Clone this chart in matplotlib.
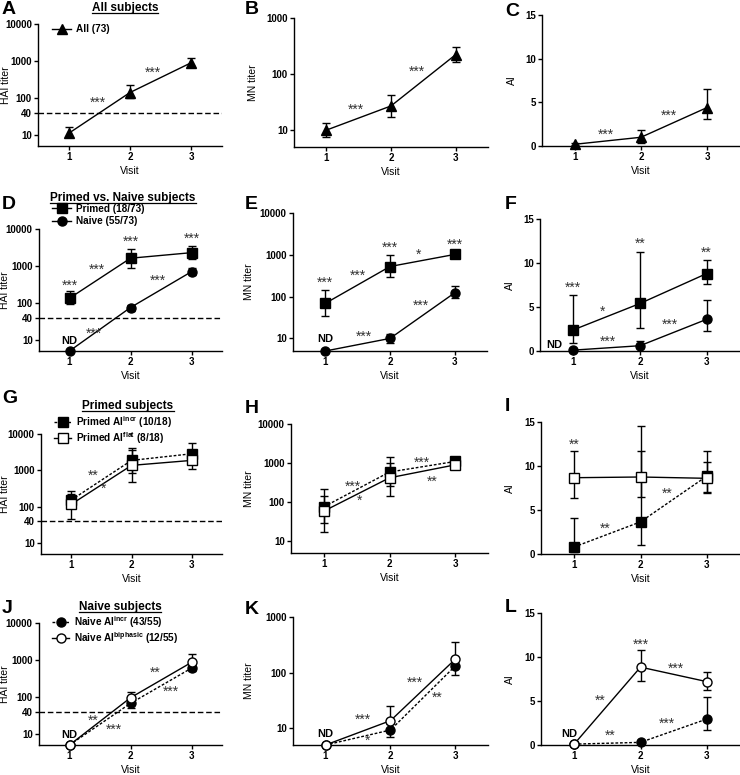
import matplotlib
matplotlib.use("Agg")
import matplotlib.pyplot as plt
from matplotlib.lines import Line2D
from matplotlib.ticker import NullLocator

plt.rcParams['font.family'] = ['Liberation Sans', 'DejaVu Sans']
plt.rcParams['font.weight'] = 'bold'
plt.rcParams['mathtext.fontset'] = 'custom'
plt.rcParams['mathtext.bf'] = 'Liberation Sans:bold'
plt.rcParams['mathtext.rm'] = 'Liberation Sans:bold'
plt.rcParams['mathtext.default'] = 'bf'

visits = [1, 2, 3]

# ---- data: value, error low, error high ----
# A - all subjects, HAI
hai_all = [11, 140, 900]
hai_all_lo = [9, 100, 730]
hai_all_hi = [16, 225, 1180]
# B - all subjects, MN
mn_all = [10, 27, 222]
mn_all_lo = [7.5, 17, 166]
mn_all_hi = [13.5, 43, 308]
# C - all subjects, AI
ai_all = [0.2, 1.0, 4.4]
ai_all_lo = [0.1, 0.4, 3.1]
ai_all_hi = [0.3, 1.8, 6.5]

# D/E/F - primed vs naive
hai_primed = [134, 1620, 2290]
hai_primed_lo = [92, 900, 1520]
hai_primed_hi = [211, 2830, 3470]
hai_naive = [5, 75, 700]
hai_naive_lo = [5, 62, 560]
hai_naive_hi = [5, 90, 880]
mn_primed = [69, 525, 1020]
mn_primed_lo = [35, 300, 960]
mn_primed_hi = [142, 1000, 1080]
mn_naive = [5, 10, 123]
mn_naive_lo = [5, 7.9, 95]
mn_naive_hi = [5, 12.8, 175]
ai_primed = [2.4, 5.4, 8.8]
ai_primed_lo = [0.9, 2.6, 7.6]
ai_primed_hi = [6.4, 11.3, 10.3]
ai_naive = [0.1, 0.6, 3.6]
ai_naive_lo = [0.05, 0.3, 2.3]
ai_naive_hi = [0.2, 1.1, 5.8]

# G/H/I - primed AI incr vs AI flat
hai_p_incr = [152, 1880, 2860]
hai_p_incr_lo = [100, 830, 1500]
hai_p_incr_hi = [270, 4080, 5740]
hai_p_flat = [116, 1370, 1880]
hai_p_flat_lo = [45, 480, 1110]
hai_p_flat_hi = [220, 3700, 3000]
mn_p_incr = [76, 590, 1100]
mn_p_incr_lo = [30, 260, 800]
mn_p_incr_hi = [215, 1400, 1300]
mn_p_flat = [59, 420, 900]
mn_p_flat_lo = [17, 140, 700]
mn_p_flat_hi = [140, 1000, 1150]
ai_p_incr = [0.8, 3.65, 8.85]
ai_p_incr_lo = [0.2, 1.0, 7.1]
ai_p_incr_hi = [4.1, 14.5, 10.5]
ai_p_flat = [8.67, 8.75, 8.6]
ai_p_flat_lo = [6.4, 6.5, 6.9]
ai_p_flat_hi = [11.7, 11.7, 11.7]

# J/K/L - naive AI incr vs AI biphasic
hai_n_incr = [5, 67, 600]
hai_n_incr_lo = [5, 50, 500]
hai_n_incr_hi = [5, 85, 700]
hai_n_biph = [5, 95, 860]
hai_n_biph_lo = [5, 70, 600]
hai_n_biph_hi = [5, 140, 1430]
mn_n_incr = [5, 9.3, 133]
mn_n_incr_lo = [5, 6.9, 91]
mn_n_incr_hi = [5, 12, 170]
mn_n_biph = [5, 13.7, 176]
mn_n_biph_lo = [5, 9, 120]
mn_n_biph_hi = [5, 25, 350]
ai_n_incr = [0.1, 0.3, 2.95]
ai_n_incr_lo = [0.05, 0.2, 1.65]
ai_n_incr_hi = [0.15, 0.4, 5.45]
ai_n_biph = [0.1, 8.85, 7.2]
ai_n_biph_lo = [0.05, 7.3, 6.3]
ai_n_biph_hi = [0.15, 10.8, 8.3]

# significance marks: (x, y, text)
stars_A = [(1.48, 72, '***'), (2.38, 490, '***')]
stars_B = [(1.45, 23, '***'), (2.4, 109, '***')]
stars_C = [(1.47, 1.26, '***'), (2.42, 3.43, '***')]
stars_D = [(1, 300, '***'), (2, 4600, '***'), (3, 5300, '***'),
           (1.45, 800, '***'), (2.45, 400, '***'), (1.4, 15, '***')]
stars_E = [(1, 220, '***'), (1.5, 320, '***'), (2, 1450, '***'),
           (2.44, 1000, '*'), (3, 1700, '***'), (1.6, 11, '***'), (2.47, 60, '***')]
stars_F = [(1, 7.2, '***'), (2, 12.2, '**'), (3, 11.2, '**'),
           (1.44, 4.5, '*'), (1.52, 1.05, '***'), (2.45, 2.95, '***')]
stars_G = [(1.36, 730, '**'), (1.53, 305, '*')]
stars_H = [(1.45, 250, '***'), (1.55, 110, '*'), (2.5, 1000, '***'), (2.65, 330, '**')]
stars_I = [(1, 12.4, '**'), (1.47, 2.9, '**'), (2.4, 6.8, '**')]
stars_J = [(1.39, 23, '**'), (1.73, 12.8, '***'), (2.41, 450, '**'), (2.67, 134, '***')]
stars_K = [(1.58, 14, '***'), (1.64, 6, '*'), (2.38, 65, '***'), (2.72, 36, '**')]
stars_L = [(2, 11.4, '***'), (2.53, 8.7, '***'), (1.39, 5.0, '**'),
           (1.55, 1.0, '**'), (2.4, 2.4, '***')]

W, H = 740, 775
fig = plt.figure(figsize=(W / 100, H / 100), dpi=100)
fig.patch.set_facecolor('white')


def make_ax(l, t, r, b):
    return fig.add_axes([l / W, 1 - b / H, (r - l) / W, (b - t) / H])


def style(ax, kind, ylabel_x):
    for s in ['top', 'right']:
        ax.spines[s].set_visible(False)
    for s in ['left', 'bottom']:
        ax.spines[s].set_linewidth(1)
    ax.set_xlim(0.5, 3.5)
    ax.set_xticks(visits)
    if kind == 'hai':
        ax.set_yscale('log')
        ax.set_ylim(5, 10000)
        ticks = [10, 40, 100, 1000, 10000]
        label = 'HAI titer'
    elif kind == 'mn4':
        ax.set_yscale('log')
        ax.set_ylim(5, 10000)
        ticks = [10, 100, 1000, 10000]
        label = 'MN titer'
    elif kind == 'mn3':
        ax.set_yscale('log')
        ax.set_ylim(5, 1000)
        ticks = [10, 100, 1000]
        label = 'MN titer'
    else:
        ax.set_ylim(0, 15)
        ticks = [0, 5, 10, 15]
        label = 'AI'
    ax.set_yticks(ticks)
    ax.set_yticklabels([str(t) for t in ticks])
    ax.yaxis.set_minor_locator(NullLocator())
    ax.tick_params(direction='out', length=3, width=1, labelsize=7, pad=1.5)
    ax.set_xlabel('Visit', fontsize=7.5, labelpad=3)
    ax.set_ylabel(label, fontsize=7.5)
    pos = ax.get_position()
    x_px = pos.x0 * W
    w_px = pos.width * W
    ax.yaxis.set_label_coords((ylabel_x + 4.5 - x_px) / w_px, 0.5)
    if kind == 'hai':
        ax.axhline(40, color='black', lw=1, ls=(0, (4, 2)), zorder=1)


def series(ax, y, lo, hi, marker, filled, ls, ms, label=None):
    err = [[v - l for v, l in zip(y, lo)], [h - v for v, h in zip(y, hi)]]
    ax.errorbar(visits, y, yerr=err, fmt='none', ecolor='black',
                elinewidth=1, capsize=3, capthick=1, zorder=2, clip_on=False)
    ax.plot(visits, y, color='black', lw=1, ls=ls, marker=marker, ms=ms,
            mfc='black' if filled else 'white', mec='black', mew=1,
            zorder=3, clip_on=False, label=label)


def stars(ax, items):
    for x, y, s in items:
        ax.text(x, y, s, ha='center', va='center', fontsize=10,
                fontweight='normal', color='#333333')


def legend(ax, left, top, hl=1.9, spacing=0.45):
    ax.legend(loc='upper left', bbox_to_anchor=(left / W, 1 - top / H),
              bbox_transform=fig.transFigure, frameon=False, fontsize=7.2,
              handlelength=hl, handletextpad=0.5, borderpad=0,
              borderaxespad=0, labelspacing=spacing)


solid = '-'
dash = (0, (2, 1.3))

# ---------- row 1 ----------
axA = make_ax(38, 24, 222, 146)
style(axA, 'hai', 7)
series(axA, hai_all, hai_all_lo, hai_all_hi, '^', True, solid, 7, 'All (73)')
stars(axA, stars_A)
legend(axA, 52, 24)

axB = make_ax(294, 18, 488, 147)
style(axB, 'mn3', 253)
series(axB, mn_all, mn_all_lo, mn_all_hi, '^', True, solid, 7)
stars(axB, stars_B)

axC = make_ax(542, 15, 740, 146)
style(axC, 'ai', 512)
series(axC, ai_all, ai_all_lo, ai_all_hi, '^', True, solid, 7)
stars(axC, stars_C)

# ---------- row 2 ----------
axD = make_ax(39, 229, 222, 351)
style(axD, 'hai', 6)
series(axD, hai_primed, hai_primed_lo, hai_primed_hi, 's', True, solid, 7, 'Primed (18/73)')
series(axD, hai_naive, hai_naive_lo, hai_naive_hi, 'o', True, solid, 6.5, 'Naive (55/73)')
stars(axD, stars_D)
axD.text(1, 9.5, 'ND', ha='center', va='center', fontsize=8)
legend(axD, 52, 203.5, spacing=0.3)

axE = make_ax(293, 213, 487, 351)
style(axE, 'mn4', 249)
series(axE, mn_primed, mn_primed_lo, mn_primed_hi, 's', True, solid, 7)
series(axE, mn_naive, mn_naive_lo, mn_naive_hi, 'o', True, solid, 6.5)
stars(axE, stars_E)
axE.text(1, 9.5, 'ND', ha='center', va='center', fontsize=8)

axF = make_ax(540, 219, 740, 351)
style(axF, 'ai', 510)
series(axF, ai_primed, ai_primed_lo, ai_primed_hi, 's', True, solid, 7)
series(axF, ai_naive, ai_naive_lo, ai_naive_hi, 'o', True, solid, 6.5)
stars(axF, stars_F)
axF.text(0.72, 0.7, 'ND', ha='center', va='center', fontsize=8)

# ---------- row 3 ----------
axG = make_ax(41, 434, 222, 554)
style(axG, 'hai', 6)
series(axG, hai_p_incr, hai_p_incr_lo, hai_p_incr_hi, 's', True, dash, 7,
       'Primed AI$^{incr}$ (10/18)')
series(axG, hai_p_flat, hai_p_flat_lo, hai_p_flat_hi, 's', False, solid, 7,
       'Primed AI$^{flat}$ (8/18)')
stars(axG, stars_G)
legend(axG, 54, 414, hl=1.7, spacing=0.0)

axH = make_ax(291, 424, 488, 553)
style(axH, 'mn4', 250)
series(axH, mn_p_incr, mn_p_incr_lo, mn_p_incr_hi, 's', True, dash, 7)
series(axH, mn_p_flat, mn_p_flat_lo, mn_p_flat_hi, 's', False, solid, 7)
stars(axH, stars_H)

axI = make_ax(541, 422, 740, 554)
style(axI, 'ai', 510)
series(axI, ai_p_incr, ai_p_incr_lo, ai_p_incr_hi, 's', True, dash, 7)
series(axI, ai_p_flat, ai_p_flat_lo, ai_p_flat_hi, 's', False, solid, 7)
stars(axI, stars_I)

# ---------- row 4 ----------
axJ = make_ax(39, 623, 222, 745)
style(axJ, 'hai', 6)
series(axJ, hai_n_incr, hai_n_incr_lo, hai_n_incr_hi, 'o', True, dash, 6.5,
       'Naive AI$^{incr}$ (43/55)')
series(axJ, hai_n_biph, hai_n_biph_lo, hai_n_biph_hi, 'o', False, solid, 6.5,
       'Naive AI$^{biphasic}$ (12/55)')
stars(axJ, stars_J)
axJ.text(1, 9.5, 'ND', ha='center', va='center', fontsize=8)
legend(axJ, 52, 614, hl=1.7, spacing=0.0)

axK = make_ax(293, 617, 488, 745)
style(axK, 'mn3', 250)
series(axK, mn_n_incr, mn_n_incr_lo, mn_n_incr_hi, 'o', True, dash, 6.5)
series(axK, mn_n_biph, mn_n_biph_lo, mn_n_biph_hi, 'o', False, solid, 6.5)
stars(axK, stars_K)
axK.text(1, 8, 'ND', ha='center', va='center', fontsize=8)

axL = make_ax(541, 613, 740, 745)
style(axL, 'ai', 510)
series(axL, ai_n_incr, ai_n_incr_lo, ai_n_incr_hi, 'o', True, dash, 6.5)
series(axL, ai_n_biph, ai_n_biph_lo, ai_n_biph_hi, 'o', False, solid, 6.5)
stars(axL, stars_L)
axL.text(0.93, 1.2, 'ND', ha='center', va='center', fontsize=8)

# ---------- panel letters ----------
letters = [('A', 2, 14), ('B', 245, 14), ('C', 505, 16),
           ('D', 2, 209), ('E', 245, 209), ('F', 505, 209),
           ('G', 2, 403), ('H', 245, 413), ('I', 505, 411),
           ('J', 2, 613), ('K', 245, 614), ('L', 505, 612)]
for s, x, y in letters:
    fig.text(x / W, 1 - y / H, s, fontsize=14, fontweight='bold',
             ha='left', va='baseline')

# ---------- underlined titles ----------
titles = [('All subjects', 125, 10.5), ('Primed vs. Naive subjects', 123, 200.5),
          ('Primed subjects', 128, 408.5), ('Naive subjects', 120, 610)]
title_objs = []
for s, x, y in titles:
    t = fig.text(x / W, 1 - y / H, s, fontsize=8.5, fontweight='bold',
                 ha='center', va='baseline')
    title_objs.append((t, y))
fig.canvas.draw()
for t, y in title_objs:
    bb = t.get_window_extent()
    fig.add_artist(Line2D([bb.x0 / W, bb.x1 / W], [1 - (y + 2) / H] * 2,
                          transform=fig.transFigure, color='black', lw=0.9))

fig.savefig('out.png', dpi=100, facecolor='white')
